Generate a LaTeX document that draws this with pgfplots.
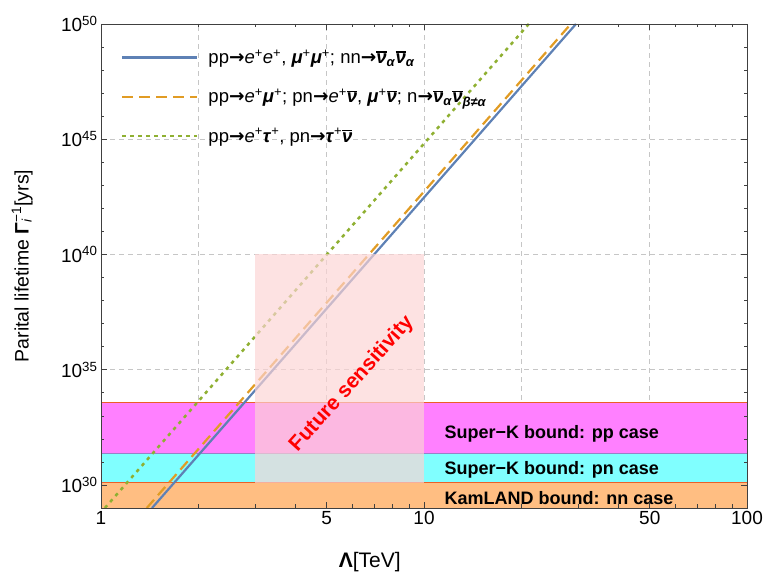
\documentclass[border=0pt]{standalone}
\usepackage{pgfplots}
\pgfplotsset{compat=1.18}
\usepackage{fontspec}
\setmainfont{Liberation Sans}
\newfontfamily\arrowfont{DejaVu Sans}

\definecolor{cblue}{RGB}{94,129,181}
\definecolor{corange}{RGB}{225,156,36}
\definecolor{cgreen}{RGB}{143,176,50}
\definecolor{cmag}{RGB}{255,128,255}
\definecolor{ccyan}{RGB}{128,255,255}
\definecolor{cband}{RGB}{255,190,130}
\definecolor{cpink}{RGB}{252,212,212}
\definecolor{edgeA}{RGB}{235,95,40}
\definecolor{edgeB}{RGB}{150,130,200}

% grid under the plots, ticks over them
\pgfplotsset{layers/gridbelow/.define layer set={axis background,axis grid,main,axis ticks,axis lines,axis tick labels,axis descriptions,axis foreground}{/pgfplots/layers/standard}}

\newcommand{\bi}[1]{\textbf{\textit{#1}}}
% nu-bar with a bar of text weight
\newcommand{\nub}{\leavevmode\vbox{\hrule height 1.3pt\kern 1.2pt\hbox{\bi{ν}}}}
\newcommand{\ar}{{\arrowfont\bfseries →}}
\newcommand{\p}{\textsuperscript{+}}

\begin{document}
\begin{tikzpicture}
\begin{axis}[
    set layers=gridbelow,
    scale only axis,
    width=646pt, height=484pt,
    xmode=log, ymode=log,
    xmin=1, xmax=100, ymin=1e29, ymax=1e50,
    xtick={1,5,10,50,100},
    xticklabels={1,5,10,50,100},
    minor xtick={2,3,4,6,7,8,9,20,30,40,60,70,80,90},
    extra x ticks={2,20},
    extra x tick labels={},
    extra x tick style={grid=major, major tick length=3.5pt},
    ytick={1e30,1e35,1e40,1e45,1e50},
    yticklabels={10\textsuperscript{30},10\textsuperscript{35},10\textsuperscript{40},10\textsuperscript{45},10\textsuperscript{50}},
    minor ytick={1e29,1e31,1e32,1e33,1e34,1e36,1e37,1e38,1e39,1e41,1e42,1e43,1e44,1e46,1e47,1e48,1e49},
    xmajorgrids, ymajorgrids,
    major grid style={gray!45, dash pattern=on 5pt off 4pt, line width=0.6pt},
    tick align=inside,
    xtick pos=both, ytick pos=both,
    axis line style={black!75, line width=0.8pt},
    every tick/.style={black!75, line width=0.6pt},
    major tick length=6pt, minor tick length=3.5pt,
    tick label style={font=\fontsize{19}{22}\selectfont},
    xlabel={\textbf{Λ}[TeV]},
    ylabel={Parital lifetime \textbf{Γ}\rlap{\textsubscript{\textit{i}}}\textsuperscript{−1}[yrs]},
    label style={font=\fontsize{19.5}{22}\selectfont},
    xlabel style={at={(axis description cs:0.416,-0.112)}, anchor=center, font=\fontsize{21}{24}\selectfont},
    ylabel style={at={(axis description cs:-0.122,0.5)}, anchor=center},
    legend style={at={(axis description cs:0.026,0.955)}, anchor=north west,
        draw=none, fill=none, font=\fontsize{18.5}{21}\selectfont, row sep=20pt},
    legend cell align=left,
    legend image code/.code={\draw[#1] (0pt,0pt) -- (75pt,0pt); \path (83pt,0pt);},
]
% experimental bounds
\addplot[fill=cmag, draw=none, forget plot] coordinates {(1,2.45e31) (100,2.45e31) (100,3.7e33) (1,3.7e33)} -- cycle;
\addplot[fill=ccyan, draw=none, forget plot] coordinates {(1,1.23e30) (100,1.23e30) (100,2.45e31) (1,2.45e31)} -- cycle;
\addplot[fill=cband, draw=none, forget plot] coordinates {(1,1e28) (100,1e28) (100,1.23e30) (1,1.23e30)} -- cycle;
\addplot[edgeA, line width=0.8pt, forget plot] coordinates {(1,3.7e33) (100,3.7e33)};
\addplot[edgeB, line width=0.8pt, forget plot] coordinates {(1,2.45e31) (100,2.45e31)};
\addplot[edgeA, line width=0.8pt, forget plot] coordinates {(1,1.23e30) (100,1.23e30)};

% lifetimes
\addplot[cblue, line width=2.2pt] coordinates {(1.439,1e29) (29.55,1e50)};
\addlegendentry{pp\ar\textit{e}\p\textit{e}\p, \bi{μ}\p\bi{μ}\p; nn\ar\nub\textsubscript{\bi{α}}\nub\textsubscript{\bi{α}}}
\addplot[corange, line width=2.2pt, dash pattern=on 11pt off 6pt] coordinates {(1.386,1e29) (28.48,1e50)};
\addlegendentry{pp\ar\textit{e}\p\bi{μ}\p; pn\ar\textit{e}\p\nub, \bi{μ}\p\nub; n\ar\nub\textsubscript{\bi{α}}\nub\textsubscript{\bi{β≠α}}}
\addplot[cgreen, line width=2.5pt, dash pattern=on 3.5pt off 4.5pt] coordinates {(1.028,1e29) (21.11,1e50)};
\addlegendentry{pp\ar\textit{e}\p\bi{τ}\p, pn\ar\bi{τ}\p\nub}

% future sensitivity
\addplot[fill=cpink, fill opacity=0.68, draw=none, forget plot] coordinates {(3,1.23e30) (10,1.23e30) (10,1e40) (3,1e40)} -- cycle;

\node[anchor=west, font=\bfseries\fontsize{18}{21}\selectfont] at (axis cs:11.3,1.6e32) {Super−K bound: pp case};
\node[anchor=west, font=\bfseries\fontsize{18}{21}\selectfont] at (axis cs:11.3,4.5e30) {Super−K bound: pn case};
\node[anchor=west, font=\bfseries\fontsize{18}{21}\selectfont] at (axis cs:11.3,2.75e29) {KamLAND bound: nn case};
\node[rotate=48, text=red, font=\bfseries\fontsize{21}{24}\selectfont] at (axis cs:5.98,2.4e34) {Future sensitivity};
\end{axis}
\pgfresetboundingbox
\path[use as bounding box] (current axis.south west) ++(-101pt,-69pt) rectangle ++(765pt,577pt);
\end{tikzpicture}
\end{document}
